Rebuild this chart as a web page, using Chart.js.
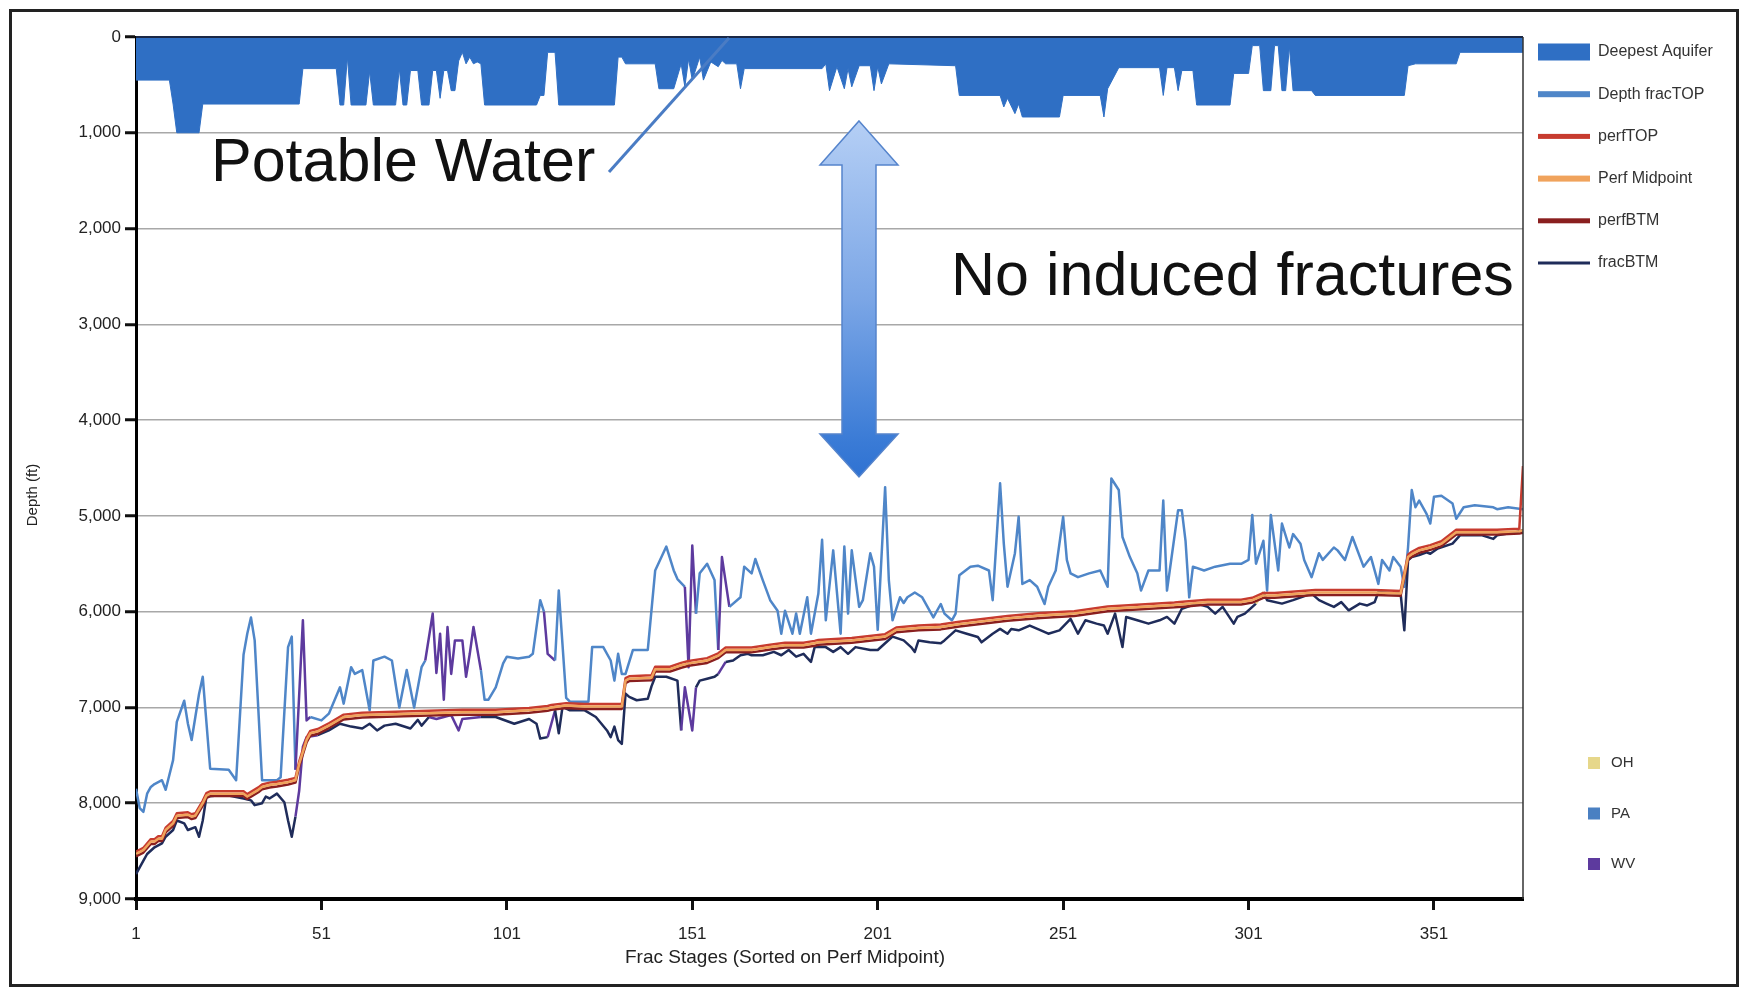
<!DOCTYPE html>
<html>
<head>
<meta charset="utf-8">
<script src="https://cdn.jsdelivr.net/npm/chart.js@4.4.0/dist/chart.umd.min.js"></script>
<style>
html,body{margin:0;padding:0;background:#fff;overflow:hidden}
canvas{display:block}
</style>
</head>
<body>
<canvas id="c" width="1743" height="989"></canvas>
<script>
// ---------------- DATA ----------------
const seriesLabels = ['Deepest Aquifer', 'Depth fracTOP', 'perfTOP', 'Perf Midpoint', 'perfBTM', 'fracBTM'];
const stateNames = ['OH', 'PA', 'WV'];
const xTickValues = [1, 51, 101, 151, 201, 251, 301, 351];
const yTickValues = [0, 1000, 2000, 3000, 4000, 5000, 6000, 7000, 8000, 9000];
const xTitle = 'Frac Stages (Sorted on Perf Midpoint)';
const yTitle = 'Depth (ft)';
const note1 = 'Potable Water';
const note2 = 'No induced fractures';

// stage ranges where the frac lines belong to WV / OH wells
const wvRanges = [[44, 48], [79, 94], [111, 114], [148, 152], [158, 160]];
const ohRanges = [[302, 305]];

// [stage, depth ft]
const aquiferPoints = [[1,450],[10,450],[11,700],[12,1000],[18,1000],[19,700],[45,700],[46,330],[55,330],[56,710],[57,710],[58,210],[59,710],[63,710],[64,360],[65,710],[71,710],[72,330],[73,710],[74,710],[75,350],[77,350],[78,710],[80,710],[81,350],[82,350],[83,640],[84,350],[85,350],[86,560],[87,560],[88,250],[89,160],[90,280],[91,210],[92,280],[93,260],[94,280],[95,710],[109,710],[110,610],[111,610],[112,160],[114,160],[115,710],[130,710],[131,210],[132,210],[133,280],[141,280],[142,540],[146,540],[148,280],[149,520],[150,230],[151,450],[153,210],[154,450],[156,260],[158,310],[159,245],[160,280],[163,280],[164,540],[165,330],[186,330],[187,280],[188,560],[190,310],[192,540],[193,330],[194,520],[196,300],[199,300],[200,560],[201,310],[202,490],[204,280],[222,300],[223,610],[234,610],[235,730],[236,640],[238,800],[239,700],[240,835],[250,835],[251,610],[261,610],[262,835],[263,540],[266,320],[277,320],[278,610],[279,320],[281,320],[282,560],[283,350],[286,350],[287,710],[296,710],[297,380],[301,380],[302,90],[304,90],[305,560],[307,560],[308,90],[309,90],[310,560],[311,560],[312,100],[313,560],[318,560],[319,610],[343,610],[344,300],[346,280],[357,280],[358,160],[375,160]];

const fracTopPoints = [[1,7850],[2,8050],[3,8090],[4,7900],[5,7830],[6,7800],[8,7760],[9,7860],[11,7550],[12,7150],[14,6930],[15,7170],[16,7340],[17,7100],[18,6860],[19,6680],[21,7640],[26,7650],[28,7760],[30,6450],[31,6230],[32,6060],[33,6300],[35,7760],[39,7760],[40,7730],[42,6370],[43,6260],[44,7650],[46,6090],[47,7135],[48,7100],[51,7135],[53,7065],[56,6790],[57,6960],[59,6580],[60,6650],[62,6610],[64,7030],[65,6510],[68,6470],[70,6510],[72,7000],[74,6610],[76,7000],[78,6580],[79,6510],[81,6020],[82,6640],[83,6230],[84,6920],[85,6160],[86,6650],[87,6300],[89,6300],[90,6680],[91,6440],[92,6160],[94,6610],[95,6920],[96,6920],[98,6790],[100,6540],[101,6470],[104,6490],[107,6470],[108,6440],[110,5880],[111,6000],[112,6440],[114,6510],[115,5780],[117,6900],[118,6940],[123,6940],[124,6370],[127,6370],[129,6510],[130,6720],[131,6440],[132,6650],[133,6650],[135,6400],[139,6400],[141,5570],[144,5320],[146,5570],[147,5660],[149,5740],[150,6580],[151,5310],[152,6020],[153,5600],[155,5500],[157,5670],[158,6400],[159,5430],[161,5950],[164,5850],[165,5530],[167,5600],[168,5450],[170,5670],[172,5880],[174,5990],[175,6230],[176,5990],[178,6230],[179,6020],[180,6230],[182,5850],[183,6230],[185,5810],[186,5250],[187,6090],[189,5360],[191,6230],[192,5320],[193,6020],[194,5360],[196,5950],[197,5880],[199,5390],[200,5530],[201,6190],[203,4700],[204,5670],[205,6090],[207,5850],[208,5910],[209,5850],[211,5800],[213,5850],[216,6060],[218,5920],[219,6020],[221,6090],[222,6020],[223,5620],[226,5530],[228,5520],[231,5570],[232,5880],[234,4660],[235,5290],[236,5740],[238,5390],[239,5010],[240,5710],[242,5670],[244,5740],[246,5920],[247,5740],[249,5570],[251,5010],[252,5460],[253,5600],[255,5640],[258,5600],[261,5570],[263,5740],[264,4610],[266,4730],[267,5220],[269,5430],[271,5600],[272,5780],[274,5570],[277,5570],[278,4840],[279,5780],[280,5500],[282,4940],[283,4940],[284,5260],[285,5850],[286,5530],[289,5570],[292,5530],[296,5500],[299,5500],[301,5460],[302,4990],[303,5500],[305,5260],[306,5780],[307,4990],[309,5570],[310,5080],[312,5330],[313,5190],[315,5290],[316,5460],[318,5640],[320,5390],[321,5460],[324,5330],[325,5360],[327,5460],[329,5220],[332,5530],[334,5430],[336,5710],[337,5460],[339,5570],[340,5430],[342,5530],[343,5740],[344,5330],[345,4730],[346,4910],[347,4840],[349,4980],[350,5080],[351,4800],[353,4790],[356,4870],[357,5030],[359,4910],[362,4890],[367,4910],[368,4930],[371,4910],[375,4930]];

const perfStages = [1,3,5,6,7,8,9,11,12,15,16,17,19,20,21,30,31,34,35,37,39,42,44,45,47,48,50,53,57,62,71,80,89,98,107,112,113,117,122,132,133,134,140,141,145,148,150,155,158,160,167,172,176,181,184,185,194,203,206,212,218,223,236,245,254,263,272,281,284,290,299,302,305,308,319,335,342,344,345,347,350,353,357,368,374,375];
const perfTopDepths = [8505,8465,8375,8375,8345,8345,8255,8185,8105,8095,8115,8105,7975,7895,7875,7875,7905,7835,7805,7785,7775,7755,7735,7565,7315,7245,7225,7165,7075,7055,7045,7035,7025,7025,7005,6985,6975,6955,6965,6965,6695,6675,6665,6575,6575,6535,6515,6485,6435,6375,6375,6345,6325,6325,6305,6295,6275,6235,6165,6145,6135,6105,6045,6015,5995,5945,5925,5905,5895,5875,5875,5855,5805,5805,5775,5775,5785,5405,5375,5335,5305,5265,5145,5145,5135,4480];
const perfMidDepths = [8530,8490,8400,8400,8370,8370,8280,8210,8130,8120,8140,8130,8000,7920,7900,7900,7930,7860,7830,7810,7800,7780,7760,7590,7340,7270,7250,7190,7100,7080,7070,7060,7050,7050,7030,7010,7000,6980,6990,6990,6720,6700,6690,6600,6600,6560,6540,6510,6460,6400,6400,6370,6350,6350,6330,6320,6300,6260,6190,6170,6160,6130,6070,6040,6020,5970,5950,5930,5920,5900,5900,5880,5830,5830,5800,5800,5810,5430,5400,5360,5330,5290,5170,5170,5160,5150];
const perfBtmDepths = [8555,8515,8425,8425,8395,8395,8305,8235,8155,8145,8165,8155,8025,7945,7925,7925,7955,7885,7855,7835,7825,7805,7785,7615,7365,7295,7275,7215,7125,7105,7095,7085,7075,7075,7055,7035,7025,7005,7015,7015,6745,6725,6715,6625,6625,6585,6565,6535,6485,6425,6425,6395,6375,6375,6355,6345,6325,6285,6215,6195,6185,6155,6095,6065,6045,5995,5975,5955,5945,5925,5925,5905,5855,5855,5825,5825,5835,5455,5425,5385,5355,5315,5195,5195,5185,5175];

const fracBtmPoints = [[1,8740],[2,8670],[3,8600],[4,8530],[6,8460],[8,8420],[9,8350],[11,8280],[12,8180],[14,8210],[15,8280],[17,8250],[18,8350],[19,8180],[20,7930],[23,7920],[26,7920],[30,7950],[32,7970],[33,8020],[35,8000],[36,7930],[37,7950],[39,7900],[41,7990],[42,8180],[43,8350],[44,8140],[45,7870],[46,7410],[47,7310],[50,7290],[53,7240],[56,7170],[59,7200],[62,7220],[64,7170],[66,7240],[68,7190],[71,7170],[75,7220],[77,7130],[78,7190],[80,7100],[82,7120],[84,7100],[86,7080],[88,7240],[89,7120],[94,7100],[98,7100],[103,7170],[107,7120],[109,7170],[110,7325],[112,7310],[113,7170],[114,7030],[115,7270],[116,6995],[118,7030],[122,7030],[125,7100],[128,7240],[129,7310],[130,7200],[131,7340],[132,7380],[133,6855],[134,6890],[136,6925],[139,6910],[140,6780],[141,6680],[144,6680],[147,6720],[148,7240],[149,6790],[151,7240],[152,6790],[153,6720],[155,6700],[157,6680],[158,6650],[160,6525],[162,6510],[164,6455],[166,6440],[167,6455],[170,6455],[173,6420],[175,6455],[177,6400],[179,6470],[181,6440],[183,6525],[184,6370],[187,6370],[189,6420],[191,6370],[193,6440],[195,6370],[199,6400],[201,6400],[203,6330],[205,6260],[208,6300],[210,6370],[211,6420],[212,6300],[215,6320],[218,6330],[219,6300],[222,6195],[225,6230],[228,6265],[229,6320],[232,6230],[234,6180],[236,6230],[237,6180],[239,6195],[242,6145],[245,6195],[247,6230],[250,6195],[253,6075],[255,6230],[257,6090],[260,6125],[262,6145],[263,6230],[265,6020],[267,6370],[268,6055],[271,6090],[274,6125],[277,6090],[279,6055],[281,6125],[283,5970],[287,5916],[290,5950],[292,6020],[294,5950],[297,6125],[298,6055],[300,6020],[303,5916],[305,5795],[306,5880],[310,5916],[313,5880],[318,5812],[320,5880],[322,5916],[324,5950],[326,5900],[328,5986],[331,5916],[333,5935],[335,5900],[336,5795],[342,5812],[343,6195],[344,5464],[345,5430],[347,5410],[349,5380],[350,5395],[352,5340],[356,5290],[358,5203],[364,5203],[367,5240],[368,5203],[373,5170],[375,5150]];

// ---------------- STYLE ----------------
const seriesColors = ['#2f6fc4', '#4f86c8', '#c73b2f', '#f0a35c', '#8a1f1f', '#1f2c5a'];
const stateColors = ['#e6d78a', '#4a80c2', '#5d3a9e'];
const regFont = '"Liberation Sans", Arial, Helvetica, sans-serif';

function toXY(pairs) { return pairs.map(p => ({ x: p[0], y: p[1] })); }
function zipXY(xs, ys) { return xs.map((x, i) => ({ x: x, y: ys[i] })); }
function inRanges(x, ranges) { return ranges.some(r => x >= r[0] && x < r[1]); }
function stateSegment(base, useOH) {
  return { borderColor: ctx => {
    const x = ctx.p0.parsed.x;
    if (inRanges(x, wvRanges)) return stateColors[2];
    if (useOH && inRanges(x, ohRanges)) return stateColors[0];
    return base;
  } };
}

const decor = {
  id: 'decor',
  beforeDraw(chart) {
    const ctx = chart.ctx;
    ctx.save();
    ctx.fillStyle = '#fff';
    ctx.fillRect(0, 0, chart.width, chart.height);
    ctx.restore();
  },
  afterDraw(chart) {
    const ctx = chart.ctx, a = chart.chartArea;
    ctx.save();
    // plot frame: top and right edges
    ctx.strokeStyle = '#1a2846'; ctx.lineWidth = 2;
    ctx.beginPath(); ctx.moveTo(a.left, a.top); ctx.lineTo(a.right, a.top); ctx.stroke();
    ctx.strokeStyle = '#333'; ctx.lineWidth = 1.5;
    ctx.beginPath(); ctx.moveTo(a.right, a.top); ctx.lineTo(a.right, a.bottom); ctx.stroke();

    // leader line to the aquifer
    ctx.strokeStyle = '#4a7cc4'; ctx.lineWidth = 3;
    ctx.beginPath(); ctx.moveTo(609, 172); ctx.lineTo(729, 38); ctx.stroke();

    // annotation texts
    ctx.fillStyle = '#111';
    ctx.textBaseline = 'alphabetic'; ctx.textAlign = 'left';
    ctx.font = '61px ' + regFont;
    ctx.fillText(note1, 211, 181);
    ctx.fillText(note2, 951, 295);

    // double arrow
    const cx = 859, hw = 17, hh = 39, t = 121, b1 = 165, b2 = 434, bt = 477;
    ctx.beginPath();
    ctx.moveTo(cx, t); ctx.lineTo(cx + hh, b1); ctx.lineTo(cx + hw, b1); ctx.lineTo(cx + hw, b2);
    ctx.lineTo(cx + hh, b2); ctx.lineTo(cx, bt); ctx.lineTo(cx - hh, b2); ctx.lineTo(cx - hw, b2);
    ctx.lineTo(cx - hw, b1); ctx.lineTo(cx - hh, b1); ctx.closePath();
    const g = ctx.createLinearGradient(0, t, 0, bt);
    g.addColorStop(0, '#b5cff5'); g.addColorStop(0.5, '#7ba6e6'); g.addColorStop(0.9, '#3a7bd6'); g.addColorStop(1, '#2f72d2');
    ctx.fillStyle = g; ctx.fill();
    ctx.strokeStyle = '#5584cc'; ctx.lineWidth = 1.5; ctx.stroke();

    // axis titles
    ctx.fillStyle = '#222';
    ctx.textAlign = 'center'; ctx.textBaseline = 'middle';
    ctx.font = '19px ' + regFont;
    ctx.fillText(xTitle, 785, 958);
    ctx.save();
    ctx.translate(33, 495); ctx.rotate(-Math.PI / 2);
    ctx.font = '15px ' + regFont;
    ctx.fillText(yTitle, 0, 0);
    ctx.restore();

    // series legend
    const lx = 1538, lw = 52, tx = 1598, y0 = 52, dy = 42.2;
    const sh = [17, 6, 5, 6, 5, 3];
    ctx.textAlign = 'left'; ctx.textBaseline = 'middle';
    ctx.font = '16px ' + regFont;
    seriesLabels.forEach((lab, i) => {
      const y = y0 + i * dy;
      ctx.fillStyle = seriesColors[i];
      ctx.fillRect(lx, y - sh[i] / 2, lw, sh[i]);
      ctx.fillStyle = '#333';
      ctx.fillText(lab, tx, y);
    });

    // state legend
    ctx.font = '15px ' + regFont;
    stateNames.forEach((lab, i) => {
      const y = 763 + i * 50.5;
      ctx.fillStyle = stateColors[i];
      ctx.fillRect(1588, y - 6, 12, 12);
      ctx.fillStyle = '#333';
      ctx.fillText(lab, 1611, y);
    });

    // outer frame
    ctx.strokeStyle = '#222'; ctx.lineWidth = 3;
    ctx.strokeRect(10.5, 10.5, 1727, 975);
    ctx.restore();
  }
};

new Chart(document.getElementById('c'), {
  type: 'line',
  data: {
    datasets: [
      { label: seriesLabels[0], data: toXY(aquiferPoints), borderColor: seriesColors[0], backgroundColor: seriesColors[0],
        borderWidth: 1, fill: { value: 0 }, pointRadius: 0, order: 6 },
      { label: seriesLabels[1], data: toXY(fracTopPoints), borderColor: seriesColors[1], borderWidth: 2.5,
        fill: false, pointRadius: 0, order: 5, segment: stateSegment(seriesColors[1], false) },
      { label: seriesLabels[5], data: toXY(fracBtmPoints), borderColor: seriesColors[5], borderWidth: 2.5,
        fill: false, pointRadius: 0, order: 4, segment: stateSegment(seriesColors[5], true) },
      { label: seriesLabels[4], data: zipXY(perfStages, perfBtmDepths), borderColor: seriesColors[4], borderWidth: 2.5,
        fill: false, pointRadius: 0, order: 3 },
      { label: seriesLabels[2], data: zipXY(perfStages, perfTopDepths), borderColor: seriesColors[2], borderWidth: 2.5,
        fill: false, pointRadius: 0, order: 2 },
      { label: seriesLabels[3], data: zipXY(perfStages, perfMidDepths), borderColor: seriesColors[3], borderWidth: 2.5,
        fill: false, pointRadius: 0, order: 1 }
    ]
  },
  options: {
    responsive: false,
    animation: false,
    devicePixelRatio: 1,
    layout: { padding: { left: 0, right: 220, top: 37, bottom: 0 } },
    plugins: { legend: { display: false }, tooltip: { enabled: false } },
    elements: { line: { borderJoinStyle: 'round', tension: 0 } },
    scales: {
      x: {
        type: 'linear', min: 1, max: 375,
        afterBuildTicks: s => { s.ticks = xTickValues.map(v => ({ value: v })); },
        afterFit: s => { s.height = 90; },
        grid: { drawOnChartArea: false, drawTicks: true, tickLength: 11, tickColor: '#111', tickWidth: 3 },
        border: { display: true, color: '#000', width: 4 },
        ticks: { autoSkip: false, maxRotation: 0, padding: 14, color: '#222',
          font: { family: regFont, size: 17 }, callback: v => String(v) }
      },
      y: {
        type: 'linear', min: 0, max: 9000, reverse: true,
        afterBuildTicks: s => { s.ticks = yTickValues.map(v => ({ value: v })); },
        afterFit: s => { s.width = 136; },
        grid: { color: '#a8a8a8', lineWidth: 1.5, drawTicks: true, tickLength: 11, tickColor: '#111', tickWidth: 3 },
        border: { display: true, color: '#000', width: 3 },
        ticks: { padding: 4, color: '#222', font: { family: regFont, size: 17 },
          callback: v => Number(v).toLocaleString('en-US') }
      }
    }
  },
  plugins: [decor]
});
</script>
</body>
</html>
